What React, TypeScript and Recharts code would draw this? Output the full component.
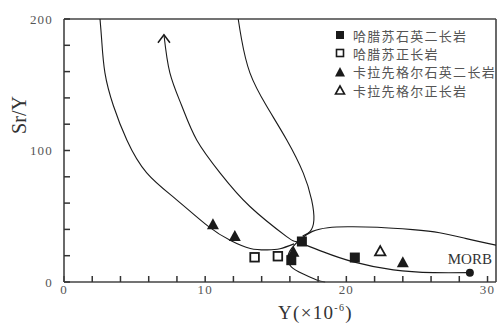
import React from 'react';
import {
  ComposedChart,
  Line,
  Scatter,
  XAxis,
  YAxis,
  ReferenceLine,
} from 'recharts';

// sample points (Y ppm, Sr/Y)
const halasuQzMonzonite = [
  { x: 16.85, y: 30.8 },
  { x: 20.6, y: 18.6 },
  { x: 16.1, y: 16.6 },
];
const halasuSyenite = [
  { x: 13.5, y: 18.8 },
  { x: 15.15, y: 19.6 },
];
const kalaxQzMonzonite = [
  { x: 10.55, y: 44 },
  { x: 12.1, y: 35 },
  { x: 16.25, y: 23 },
  { x: 24.0, y: 15 },
];
const kalaxSyenite = [{ x: 22.4, y: 23.5 }];
const morb = [{ x: 28.75, y: 7.1, name: 'MORB' }];

// model curves
const curveA = [
  { x: 2.55, y: 200 }, { x: 2.67, y: 184 }, { x: 2.9, y: 159 }, { x: 3.5, y: 134 },
  { x: 4.45, y: 108 }, { x: 5.86, y: 83 }, { x: 7.98, y: 62.5 }, { x: 10.2, y: 42.5 },
  { x: 11.8, y: 31.5 }, { x: 13.2, y: 25.5 }, { x: 14.4, y: 24.4 }, { x: 15.3, y: 25.3 },
  { x: 16.3, y: 29 },
];
const curveB = [
  { x: 7.08, y: 188 }, { x: 7.5, y: 159 }, { x: 8.34, y: 134 }, { x: 9.4, y: 108 },
  { x: 11.05, y: 83 }, { x: 13.17, y: 57.4 }, { x: 15.77, y: 34.5 }, { x: 16.5, y: 30.5 },
  { x: 18.37, y: 22.9 }, { x: 20.5, y: 15.3 }, { x: 23.33, y: 9.2 }, { x: 26.17, y: 7.1 },
  { x: 28.72, y: 7.1 },
];
const curveC = [
  { x: 12.34, y: 200 }, { x: 12.58, y: 184.4 }, { x: 13.17, y: 159 }, { x: 14.36, y: 133.6 },
  { x: 15.77, y: 108.2 }, { x: 16.95, y: 82.8 }, { x: 17.54, y: 62.5 }, { x: 17.7, y: 47.2 },
  { x: 17.42, y: 38.3 }, { x: 16.9, y: 35 },
];
const curveD = [
  { x: 18.5, y: 0 }, { x: 17.9, y: 1.5 }, { x: 16.95, y: 6 }, { x: 16.1, y: 11.5 },
  { x: 15.85, y: 19 }, { x: 16.15, y: 26 }, { x: 16.75, y: 32.5 }, { x: 17.6, y: 38.5 },
  { x: 18.7, y: 41.3 }, { x: 20.1, y: 42 }, { x: 22.2, y: 41.6 }, { x: 24.7, y: 39.8 },
  { x: 26.6, y: 37.5 }, { x: 28.5, y: 33 }, { x: 30.6, y: 28 },
];
const arrowTip = [{ x: 7.08, y: 188 }];

const xTicks = [0, 2, 4, 6, 8, 10, 12, 14, 16, 18, 20, 22, 24, 26, 28, 30];
const xLabels = [0, 10, 20, 30];
const yTicks = [0, 20, 40, 60, 80, 100, 120, 140, 160, 180, 200];
const yLabels = [0, 100, 200];

const seriesNames = [
  '哈腊苏石英二长岩',
  '哈腊苏正长岩',
  '卡拉先格尔石英二长岩',
  '卡拉先格尔正长岩',
];

const serif = '"Liberation Serif", "Times New Roman", serif';
const ink = '#1a1a1a';

const FilledSquare = (p: any) => (
  <rect x={p.cx - 5} y={p.cy - 5} width={10} height={10} fill={ink} />
);
const OpenSquare = (p: any) => (
  <rect x={p.cx - 4.3} y={p.cy - 4.3} width={8.6} height={8.6} fill="#fff" stroke={ink} strokeWidth={1.8} />
);
const FilledTriangle = (p: any) => (
  <path d={`M${p.cx},${p.cy - 6} L${p.cx + 6},${p.cy + 5} L${p.cx - 6},${p.cy + 5} Z`} fill={ink} />
);
const OpenTriangle = (p: any) => (
  <path
    d={`M${p.cx},${p.cy - 5} L${p.cx + 5.2},${p.cy + 4.3} L${p.cx - 5.2},${p.cy + 4.3} Z`}
    fill="#fff"
    stroke={ink}
    strokeWidth={1.8}
  />
);
const MorbDot = (p: any) => (
  <g>
    <circle cx={p.cx} cy={p.cy} r={4} fill={ink} />
    <text x={p.cx} y={p.cy - 9} textAnchor="middle" fontFamily={serif} fontSize={15} fill="#333">
      {p.payload?.name}
    </text>
  </g>
);
const Chevron = (p: any) => (
  <path
    d={`M${p.cx - 6},${p.cy + 8} L${p.cx},${p.cy} L${p.cx + 6},${p.cy + 8}`}
    fill="none"
    stroke={ink}
    strokeWidth={1.5}
  />
);

const legendIcons = [
  <rect x={2} y={2} width={8} height={8} fill={ink} />,
  <rect x={2.5} y={2.5} width={7} height={7} fill="#fff" stroke={ink} strokeWidth={1.6} />,
  <path d="M6,1 L11,10.5 L1,10.5 Z" fill={ink} />,
  <path d="M6,2 L10.5,10 L1.5,10 Z" fill="#fff" stroke={ink} strokeWidth={1.6} />,
];

const LegendBox = () => (
  <div
    style={{
      position: 'absolute',
      left: 334,
      top: 26,
      fontFamily: '"Noto Sans CJK SC", sans-serif',
      fontSize: 13,
      color: '#555',
    }}
  >
    {seriesNames.map((name, i) => (
      <div key={name} style={{ display: 'flex', alignItems: 'center', height: 18.3 }}>
        <svg width={12} height={12} style={{ marginRight: 7 }}>
          {legendIcons[i]}
        </svg>
        <span style={{ letterSpacing: 1.3, whiteSpace: 'nowrap' }}>{name}</span>
      </div>
    ))}
  </div>
);

const YTitle = () => (
  <text
    x={19}
    y={115}
    transform="rotate(-90 19 115)"
    textAnchor="middle"
    dominantBaseline="central"
    fontFamily={serif}
    fontSize={20}
    fill="#333"
  >
    Sr/Y
  </text>
);

const XTitle = () => (
  <text x={278} y={319} fontFamily={serif} fontSize={19} letterSpacing={1.3} fill="#333">
    Y(×10
    <tspan dy={-8} fontSize={10}>-6</tspan>
    <tspan dy={8}>)</tspan>
  </text>
);

const tickStyle = { fill: '#555', fontFamily: serif, fontSize: 13, letterSpacing: 1.2 };
const axisStroke = { stroke: '#444', strokeWidth: 1.6 };
const tickLineStyle = { stroke: '#333', strokeWidth: 1.5 };

const lineProps = {
  type: 'natural' as const,
  dataKey: 'y',
  stroke: ink,
  strokeWidth: 1.1,
  dot: false,
  activeDot: false,
  isAnimationActive: false,
  legendType: 'none' as const,
};

export default function App() {
  return (
    <div style={{ position: 'absolute', left: 0, top: 0, width: 498, height: 324, background: '#fff' }}>
      <ComposedChart width={498} height={324} margin={{ top: 19, right: 2, left: 0, bottom: 0 }}>
        <XAxis
          type="number"
          dataKey="x"
          domain={[0, 30.6]}
          ticks={xTicks}
          interval={0}
          height={42}
          tickSize={-6}
          tickMargin={9}
          tickLine={tickLineStyle}
          tick={tickStyle}
          tickFormatter={(v: number) => (xLabels.includes(v) ? String(v) : '')}
          axisLine={axisStroke}
          label={{ content: <XTitle /> }}
        />
        <YAxis
          type="number"
          dataKey="y"
          domain={[0, 200]}
          ticks={yTicks}
          interval={0}
          width={64}
          tickSize={-6}
          tickMargin={17}
          tickLine={tickLineStyle}
          tick={tickStyle}
          tickFormatter={(v: number) => (yLabels.includes(v) ? String(v) : '')}
          axisLine={axisStroke}
          label={{ content: <YTitle /> }}
        />
        <ReferenceLine y={200} {...axisStroke} />
        <ReferenceLine x={30.6} {...axisStroke} />

        <Line {...lineProps} data={curveA} />
        <Line {...lineProps} data={curveB} />
        <Line {...lineProps} data={curveC} />
        <Line {...lineProps} data={curveD} />

        <Scatter data={arrowTip} shape={<Chevron />} isAnimationActive={false} legendType="none" />
        <Scatter name={seriesNames[0]} data={halasuQzMonzonite} shape={<FilledSquare />} isAnimationActive={false} />
        <Scatter name={seriesNames[1]} data={halasuSyenite} shape={<OpenSquare />} isAnimationActive={false} />
        <Scatter name={seriesNames[2]} data={kalaxQzMonzonite} shape={<FilledTriangle />} isAnimationActive={false} />
        <Scatter name={seriesNames[3]} data={kalaxSyenite} shape={<OpenTriangle />} isAnimationActive={false} />
        <Scatter data={morb} shape={<MorbDot />} isAnimationActive={false} legendType="none" />
      </ComposedChart>
      <LegendBox />
    </div>
  );
}
